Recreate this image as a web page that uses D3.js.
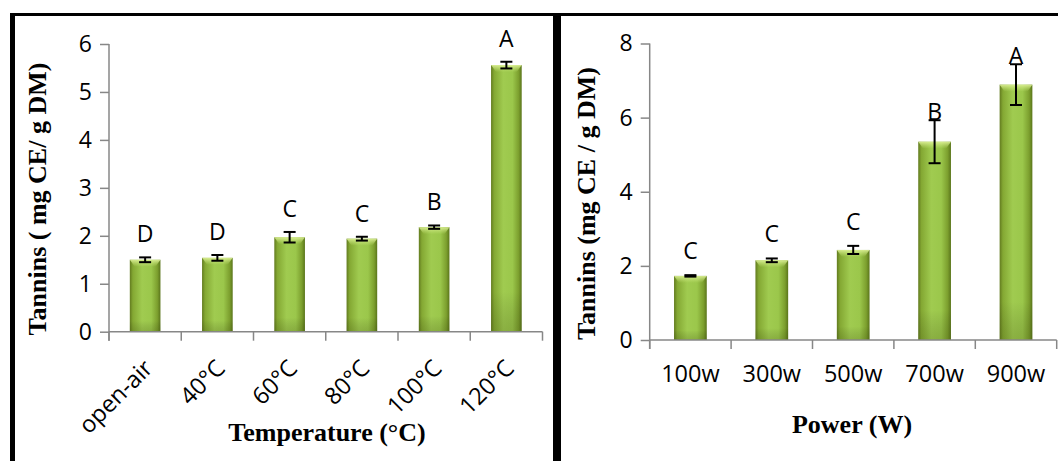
<!DOCTYPE html>
<html>
<head>
<meta charset="utf-8">
<script src="https://cdn.jsdelivr.net/npm/d3@7"></script>
<style>
  html, body { margin: 0; padding: 0; background: #fff; }
  svg { display: block; }
</style>
</head>
<body>
<svg id="chart" width="1058" height="461"></svg>
<script>
// ---- Data ----
const tempCategories = ["open-air", "40°C", "60°C", "80°C", "100°C", "120°C"];
const tempValues = [1.50, 1.54, 1.97, 1.94, 2.18, 5.56];
const tempErrors = [0.05, 0.06, 0.11, 0.04, 0.035, 0.07];
const tempLetters = ["D", "D", "C", "C", "B", "A"];
const tempTicks = [0, 1, 2, 3, 4, 5, 6];

const powerCategories = ["100w", "300w", "500w", "700w", "900w"];
const powerValues = [1.73, 2.15, 2.43, 5.35, 6.89];
const powerErrors = [0.02, 0.05, 0.11, 0.58, 0.55];
const powerLetters = ["C", "C", "C", "B", "A"];
const powerTicks = [0, 2, 4, 6, 8];

const svg = d3.select("#chart");
const defs = svg.append("defs");

// bar gradients
const hg = defs.append("linearGradient").attr("id", "barH").attr("x1", 0).attr("x2", 1).attr("y1", 0).attr("y2", 0);
[[0, "#627b1f"], [0.1, "#84a833"], [0.4, "#a0cb50"], [0.7, "#9bc74b"], [0.9, "#7c9f2e"], [1, "#5a751b"]]
  .forEach(([o, c]) => hg.append("stop").attr("offset", o).attr("stop-color", c));
const vg = defs.append("linearGradient").attr("id", "barV").attr("x1", 0).attr("x2", 0).attr("y1", 0).attr("y2", 1);
[[0, "rgba(0,0,0,0)"], [0.85, "rgba(0,0,0,0)"], [1, "rgba(40,50,0,0.18)"]]
  .forEach(([o, c]) => vg.append("stop").attr("offset", o).attr("stop-color", c));
const tg = defs.append("linearGradient").attr("id", "barT").attr("x1", 0).attr("x2", 0).attr("y1", 0).attr("y2", 1);
[[0, "rgba(220,240,150,0.95)"], [1, "rgba(200,230,120,0)"]]
  .forEach(([o, c]) => tg.append("stop").attr("offset", o).attr("stop-color", c));

const axisColor = "#878787";
const tickFont = "'Open Sans', 'Liberation Sans', sans-serif";
const titleFont = "'Liberation Serif', 'Times New Roman', serif";

function drawPanel(cfg) {
  const g = svg.append("g");
  const x = d3.scaleBand().domain(cfg.categories).range(cfg.xRange)
    .paddingInner(cfg.pad).paddingOuter(cfg.pad / 2);
  const y = d3.scaleLinear().domain(cfg.domain).range(cfg.yRange);
  const y0 = y(0);

  // bars
  const bars = g.append("g");
  cfg.values.forEach((v, i) => {
    const bx = x(cfg.categories[i]), bw = x.bandwidth();
    const top = y(v);
    bars.append("rect").attr("x", bx).attr("y", top).attr("width", bw).attr("height", y0 - top)
      .attr("fill", "url(#barH)");
    bars.append("rect").attr("x", bx).attr("y", top).attr("width", bw).attr("height", y0 - top)
      .attr("fill", "url(#barV)");
    // top bevel
    bars.append("path")
      .attr("d", `M${bx},${top} L${bx + bw},${top} L${bx + bw - 5},${top + 7} L${bx + 5},${top + 7} Z`)
      .attr("fill", "url(#barT)");
  });

  // y axis
  const yAxis = d3.axisLeft(y).tickValues(cfg.ticks).tickSize(9).tickPadding(8).tickFormat(d3.format("d"));
  const ya = g.append("g").attr("transform", `translate(${cfg.xRange[0]},0)`).call(yAxis);
  ya.select(".domain").attr("stroke", axisColor).attr("stroke-width", 1.5)
    .attr("d", `M0,${cfg.yRange[1]}V${y0 + 9}`);
  ya.selectAll(".tick line").attr("stroke", axisColor).attr("stroke-width", 1.5);
  ya.selectAll(".tick text").attr("font-family", tickFont).attr("font-size", 23).attr("fill", "#000");

  // x axis line + ticks at band boundaries
  const xa = g.append("g");
  xa.append("line").attr("x1", cfg.xRange[0]).attr("x2", cfg.xRange[1]).attr("y1", y0).attr("y2", y0)
    .attr("stroke", axisColor).attr("stroke-width", 1.5);
  const half = (x.step() - x.bandwidth()) / 2;
  const bounds = cfg.categories.map(c => x(c) - half).concat([x(cfg.categories[cfg.categories.length - 1]) + x.bandwidth() + half]);
  bounds.forEach(b => {
    xa.append("line").attr("x1", b).attr("x2", b).attr("y1", y0).attr("y2", y0 + 9)
      .attr("stroke", axisColor).attr("stroke-width", 1.5);
  });

  // error bars
  const eg = g.append("g").attr("stroke", "#000").attr("stroke-width", 2);
  cfg.values.forEach((v, i) => {
    const cx = x(cfg.categories[i]) + x.bandwidth() / 2;
    const e = cfg.errors[i];
    const yt = y(v + e), yb = y(v - e);
    eg.append("line").attr("x1", cx).attr("x2", cx).attr("y1", yt).attr("y2", yb);
    eg.append("line").attr("x1", cx - 6).attr("x2", cx + 6).attr("y1", yt).attr("y2", yt);
    eg.append("line").attr("x1", cx - 6).attr("x2", cx + 6).attr("y1", yb).attr("y2", yb);
  });

  // significance letters
  cfg.letters.forEach((L, i) => {
    const cx = x(cfg.categories[i]) + x.bandwidth() / 2;
    const e = cfg.errors[i];
    const off = cfg.letterOffset(e);
    g.append("text").attr("x", cx).attr("y", y(cfg.values[i] + e) - off)
      .attr("text-anchor", "middle").attr("font-family", tickFont).attr("font-size", 23)
      .attr("fill", "#000").text(L);
  });

  // category labels
  cfg.categories.forEach(c => {
    const cx = x(c) + x.bandwidth() / 2;
    if (cfg.rotate) {
      g.append("text").attr("transform", `translate(${cx + 9},${y0 + 38}) rotate(-45)`)
        .attr("text-anchor", "end").attr("font-family", tickFont).attr("font-size", 23.5).attr("fill", "#000").text(c);
    } else {
      g.append("text").attr("x", cx).attr("y", y0 + 42)
        .attr("text-anchor", "middle").attr("font-family", tickFont).attr("font-size", 23.5).attr("fill", "#000").text(c);
    }
  });

  // titles
  g.append("text").attr("transform", `translate(${cfg.yTitlePos[0]},${cfg.yTitlePos[1]}) rotate(-90)`)
    .attr("text-anchor", "middle").attr("font-family", titleFont).attr("font-weight", "bold")
    .attr("font-size", 26).attr("fill", "#000").text(cfg.yTitle);
  g.append("text").attr("x", cfg.xTitlePos[0]).attr("y", cfg.xTitlePos[1])
    .attr("text-anchor", "middle").attr("font-family", titleFont).attr("font-weight", "bold")
    .attr("font-size", 26).attr("fill", "#000").text(cfg.xTitle);
}

drawPanel({
  categories: tempCategories, values: tempValues, errors: tempErrors, letters: tempLetters,
  ticks: tempTicks, domain: [0, 6], xRange: [109, 542.5], yRange: [331.7, 44], pad: 0.576,
  rotate: true, letterOffset: () => 15,
  yTitle: "Tannins ( mg CE/ g DM)", yTitlePos: [46, 199],
  xTitle: "Temperature (°C)", xTitlePos: [327, 441]
});

drawPanel({
  categories: powerCategories, values: powerValues, errors: powerErrors, letters: powerLetters,
  ticks: powerTicks, domain: [0, 8], xRange: [649.7, 1056.7], yRange: [340, 43.5], pad: 0.598,
  rotate: false, letterOffset: e => (e > 0.3 ? 0 : 16),
  yTitle: "Tannins (mg CE / g DM)", yTitlePos: [595, 203.5],
  xTitle: "Power (W)", xTitlePos: [852, 433]
});

// frame
const frame = svg.append("g").attr("fill", "#000");
frame.append("rect").attr("x", 10).attr("y", 13).attr("width", 1048).attr("height", 3);
frame.append("rect").attr("x", 10).attr("y", 13).attr("width", 5).attr("height", 448);
frame.append("rect").attr("x", 553).attr("y", 13).attr("width", 8).attr("height", 448);
</script>
</body>
</html>
